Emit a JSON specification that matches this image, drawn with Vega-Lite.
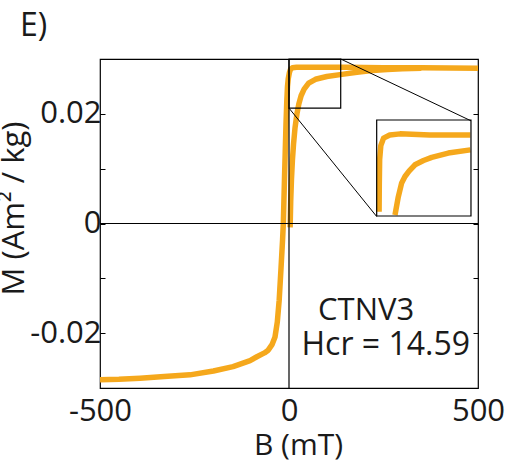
{
  "$schema": "https://vega.github.io/schema/vega-lite/v6.json",
  "width": 378,
  "height": 329,
  "autosize": {"type": "none"},
  "padding": {"left": 100, "top": 59, "right": 36, "bottom": 79},
  "title": {"text": "E)", "anchor": "start", "frame": "group", "fontSize": 32, "font": "Open Sans", "fontWeight": "normal", "color": "#1a1a1a", "dx": -80, "offset": 22, "dy": 32, "baseline": "alphabetic"},
  "config": {
    "font": "Open Sans",
    "view": {"stroke": "black", "strokeWidth": 1.2},
    "axis": {"grid": false, "domain": false, "labelFont": "Open Sans", "titleFont": "Open Sans", "labelColor": "#1a1a1a", "titleColor": "#1a1a1a", "tickColor": "black", "labelFontSize": 31, "titleFontSize": 30, "titleFontWeight": "normal"}
  },
  "datasets": {
    "loop": [
      {"B": -500, "M": -0.0285}, {"B": -450, "M": -0.0284}, {"B": -394, "M": -0.0282}, {"B": -330, "M": -0.0279},
      {"B": -262, "M": -0.0276}, {"B": -200, "M": -0.0269}, {"B": -148, "M": -0.0261}, {"B": -103, "M": -0.025},
      {"B": -85, "M": -0.0243}, {"B": -65, "M": -0.0236}, {"B": -55, "M": -0.0231}, {"B": -45, "M": -0.0221},
      {"B": -37, "M": -0.0207}, {"B": -31, "M": -0.018}, {"B": -26, "M": -0.014}, {"B": -21, "M": -0.008},
      {"B": -17, "M": -0.003}, {"B": -15, "M": 0.0}, {"B": -12, "M": 0.008}, {"B": -10, "M": 0.013},
      {"B": -8, "M": 0.018}, {"B": -6, "M": 0.022}, {"B": -4, "M": 0.025}, {"B": -2, "M": 0.0264},
      {"B": 1, "M": 0.0275}, {"B": 4, "M": 0.0281}, {"B": 9, "M": 0.0284}, {"B": 20, "M": 0.0285},
      {"B": 60, "M": 0.0285}, {"B": 150, "M": 0.0285}, {"B": 250, "M": 0.0284}, {"B": 350, "M": 0.0284},
      {"B": 500, "M": 0.0283}
    ],
    "virgin": [
      {"B": 3, "M": -0.0007}, {"B": 4.5, "M": 0.004}, {"B": 6.5, "M": 0.008}, {"B": 9, "M": 0.0115},
      {"B": 12, "M": 0.0145}, {"B": 16, "M": 0.0175}, {"B": 21, "M": 0.02}, {"B": 26, "M": 0.0218},
      {"B": 32, "M": 0.0233}, {"B": 40, "M": 0.0245}, {"B": 52, "M": 0.0256}, {"B": 70, "M": 0.0263},
      {"B": 100, "M": 0.0268}, {"B": 140, "M": 0.0272}, {"B": 180, "M": 0.0276}, {"B": 220, "M": 0.0279},
      {"B": 260, "M": 0.0281}, {"B": 300, "M": 0.0282}, {"B": 350, "M": 0.0283}
    ],
    "insetLoop": [
      {"B": 3.5, "M": 0.0214}, {"B": 3.8, "M": 0.024}, {"B": 4.3, "M": 0.0263}, {"B": 6, "M": 0.0276},
      {"B": 10, "M": 0.0283}, {"B": 19, "M": 0.0286}, {"B": 34, "M": 0.0287}, {"B": 77, "M": 0.0286},
      {"B": 136, "M": 0.0286}
    ],
    "insetVirgin": [
      {"B": 26.6, "M": 0.0211}, {"B": 31.4, "M": 0.0228}, {"B": 36.3, "M": 0.0241}, {"B": 41.1, "M": 0.0247},
      {"B": 47, "M": 0.0252}, {"B": 55.6, "M": 0.0258}, {"B": 68, "M": 0.0262}, {"B": 80, "M": 0.0265},
      {"B": 104, "M": 0.0269}, {"B": 136, "M": 0.0272}
    ]
  },
  "layer": [
    {
      "layer": [
        {
          "layer": [
            {
              "data": {"name": "loop"},
              "mark": {"type": "line", "color": "#F5A81C", "strokeWidth": 5.5, "strokeJoin": "round", "clip": true},
              "encoding": {
                "x": {"field": "B", "type": "quantitative", "scale": {"domain": [-500, 500], "nice": false, "zero": false},
                  "axis": {"values": [-500, 0, 500], "ticks": false, "labelPadding": 8, "labelFlush": false, "labelOverlap": false,
                    "labelExpr": "(datum.value < 0 ? '-' : '') + format(abs(datum.value), 'd')",
                    "title": "B (mT)", "titleX": 198, "titleY": 66, "titleBaseline": "alphabetic", "titleAlign": "center",
                    "encode": {"labels": {"update": {"dx": {"signal": "datum.value < 0 ? 5 : (datum.value == 0 ? -8 : 1)"}}}}}},
                "y": {"field": "M", "type": "quantitative", "scale": {"domain": [-0.03, 0.03], "nice": false, "zero": false},
                  "axis": {"values": [-0.02, -0.01, 0, 0.01, 0.02], "tickSize": -5, "labelPadding": 4, "labelFlush": false, "labelOverlap": false,
                    "labelExpr": "abs(datum.value) < 0.001 ? '0' : (abs(abs(datum.value) - 0.01) < 0.001 ? '' : (datum.value < 0 ? '-' : '') + format(abs(datum.value), '.2f'))",
                    "title": "M (Am² / kg)", "titleFontSize": 31, "titleX": -77, "titleY": 149, "titleAngle": -90, "titleBaseline": "alphabetic", "titleAlign": "center"}}
              }
            },
            {
              "data": {"name": "virgin"},
              "mark": {"type": "line", "color": "#F5A81C", "strokeWidth": 5.5, "strokeJoin": "round", "clip": true},
              "encoding": {
                "x": {"field": "B", "type": "quantitative"},
                "y": {"field": "M", "type": "quantitative"}
              }
            },
            {
              "data": {"values": [{}]},
              "mark": {"type": "rule", "color": "black", "strokeWidth": 1.2},
              "encoding": {"x": {"datum": 0, "type": "quantitative"}}
            },
            {
              "data": {"values": [{}]},
              "mark": {"type": "rect", "filled": false, "stroke": "black", "strokeWidth": 1.2},
              "encoding": {
                "x": {"datum": 0, "type": "quantitative"}, "x2": {"datum": 136.8},
                "y": {"datum": 0.02104, "type": "quantitative"}, "y2": {"datum": 0.03}
              }
            },
            {
              "data": {"values": [{}]},
              "mark": {"type": "rule", "color": "black", "strokeWidth": 1},
              "encoding": {
                "x": {"datum": 136.8, "type": "quantitative"}, "x2": {"datum": 481.5},
                "y": {"datum": 0.03, "type": "quantitative"}, "y2": {"datum": 0.018727}
              }
            },
            {
              "data": {"values": [{}]},
              "mark": {"type": "rule", "color": "black", "strokeWidth": 1},
              "encoding": {
                "x": {"datum": 0, "type": "quantitative"}, "x2": {"datum": 232},
                "y": {"datum": 0.02104, "type": "quantitative"}, "y2": {"datum": 0.001273}
              }
            },
            {
              "data": {"values": [{}]},
              "mark": {"type": "text", "text": "CTNV3", "fontSize": 31, "font": "Open Sans", "color": "#1a1a1a", "align": "center", "baseline": "alphabetic"},
              "encoding": {"x": {"datum": 204, "type": "quantitative"}, "y": {"datum": -0.0176, "type": "quantitative"}}
            },
            {
              "data": {"values": [{}]},
              "mark": {"type": "text", "text": "Hcr = 14.59", "fontSize": 32, "font": "Open Sans", "color": "#1a1a1a", "align": "center", "baseline": "alphabetic"},
              "encoding": {"x": {"datum": 256, "type": "quantitative"}, "y": {"datum": -0.024, "type": "quantitative"}}
            }
          ]
        },
        {
          "data": {"values": [{}]},
          "mark": {"type": "rule", "color": "black", "strokeWidth": 1.2},
          "encoding": {
            "y": {"datum": 0, "type": "quantitative",
              "axis": {"orient": "right", "values": [-0.02, -0.01, 0, 0.01, 0.02], "tickSize": -5, "labels": false, "title": null}}
          }
        }
      ],
      "resolve": {"axis": {"y": "independent"}}
    },
    {
      "layer": [
        {
          "data": {"name": "insetLoop"},
          "mark": {"type": "line", "color": "#F5A81C", "strokeWidth": 5.5, "strokeJoin": "round"},
          "encoding": {
            "x": {"field": "B", "type": "quantitative", "scale": {"domain": [-402.0, 147.2], "nice": false, "zero": false}, "axis": null},
            "y": {"field": "M", "type": "quantitative", "scale": {"domain": [0.004875, 0.035719], "nice": false, "zero": false}, "axis": null}
          }
        },
        {
          "data": {"name": "insetVirgin"},
          "mark": {"type": "line", "color": "#F5A81C", "strokeWidth": 5.5, "strokeJoin": "round"},
          "encoding": {
            "x": {"field": "B", "type": "quantitative", "axis": null},
            "y": {"field": "M", "type": "quantitative", "axis": null}
          }
        },
        {
          "data": {"values": [{}]},
          "mark": {"type": "rect", "filled": false, "stroke": "black", "strokeWidth": 1.2},
          "encoding": {
            "x": {"datum": 0, "type": "quantitative", "axis": null}, "x2": {"datum": 137},
            "y": {"datum": 0.021, "type": "quantitative", "axis": null}, "y2": {"datum": 0.030}
          }
        }
      ]
    }
  ],
  "resolve": {"scale": {"x": "independent", "y": "independent"}}
}
